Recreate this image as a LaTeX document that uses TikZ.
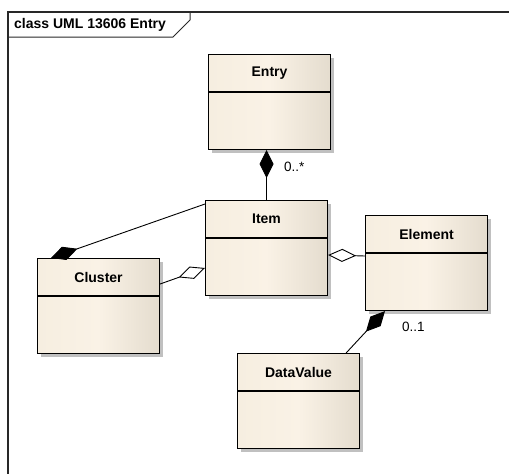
\documentclass[tikz,border=0pt]{standalone}
\usepackage{fontspec}
\setmainfont{Liberation Sans}
\usetikzlibrary{shadows,arrows.meta}
\definecolor{classleft}{RGB}{246,238,224}
\definecolor{classmid}{RGB}{250,242,230}
\definecolor{classright}{RGB}{228,220,206}
\definecolor{shadowgray}{RGB}{192,192,192}
\definecolor{framegray}{RGB}{40,40,40}
\newcommand{\umlclass}[3]{
    \node[classbox] (#1) at (#2) {};
    \draw[classline] ([yshift=-38pt]#1.north west) -- ([yshift=-38pt]#1.north east);
    \node[classname] (#1-name) at ([yshift=-19pt]#1.north) {#3};
}

\begin{document}
\begin{tikzpicture}[
        x=1pt,y=-1pt,
        classbox/.style={
            draw=black,
            line width=1.1pt,
            anchor=north west,
            inner sep=0pt,
            minimum width=122pt,
            minimum height=95pt,
            left color=classleft,
            right color=classright,
            middle color=classmid,
            drop shadow={shadow xshift=3pt,shadow yshift=-3pt,fill=shadowgray,opacity=1},
        },
        classline/.style={draw=black,line width=1.1pt},
        classname/.style={font=\fontsize{14}{16}\selectfont\bfseries,inner sep=0pt},
        mult/.style={font=\fontsize{13.5}{15}\selectfont,anchor=west,inner sep=0pt},
        assoc/.style={draw=black,line width=0.9pt},
        comp/.style={assoc,-{Diamond[length=28pt,width=14pt,fill=black]}},
        aggr/.style={assoc,-{Diamond[open,length=28pt,width=13pt,fill=white]}},
    ]
    \useasboundingbox (0,0) rectangle (509,474);
    % frame
    \draw[framegray,line width=1.2pt] (509,12) -- (8,12) -- (8,474);
    \draw[framegray,line width=1pt] (8,37) -- (173,37) -- (190,20) -- (190,12);
    \node[anchor=west,inner sep=0pt,font=\fontsize{14}{16}\selectfont\bfseries] (frametitle) at (14,25) {class UML 13606 Entry};

    % classes
    \umlclass{entry}{208,54}{Entry}
    \umlclass{item}{205,200}{Item}
    \umlclass{cluster}{37,258}{Cluster}
    \umlclass{element}{365,215}{Element}
    \umlclass{datavalue}{237,353}{DataValue}

    % associations
    \draw[comp] (item.north) -- (item.north |- entry.south);
    \draw[comp] ([yshift=-4pt]item.north west) -- ([xshift=14pt]cluster.north west);
    \draw[aggr] ([yshift=-26pt]cluster.north east) -- ([yshift=-68pt]item.north west);
    \draw[aggr] ([yshift=-41pt]element.north west) -- ([yshift=-55pt]item.north east);
    \draw[comp] ([xshift=-14pt]datavalue.north east) -- ([xshift=20pt]element.south west);

    % multiplicities
    \node[mult] (entrymult) at (284,167) {0..*};
    \node[mult] (elementmult) at (402,327) {0..1};
\end{tikzpicture}
\end{document}
